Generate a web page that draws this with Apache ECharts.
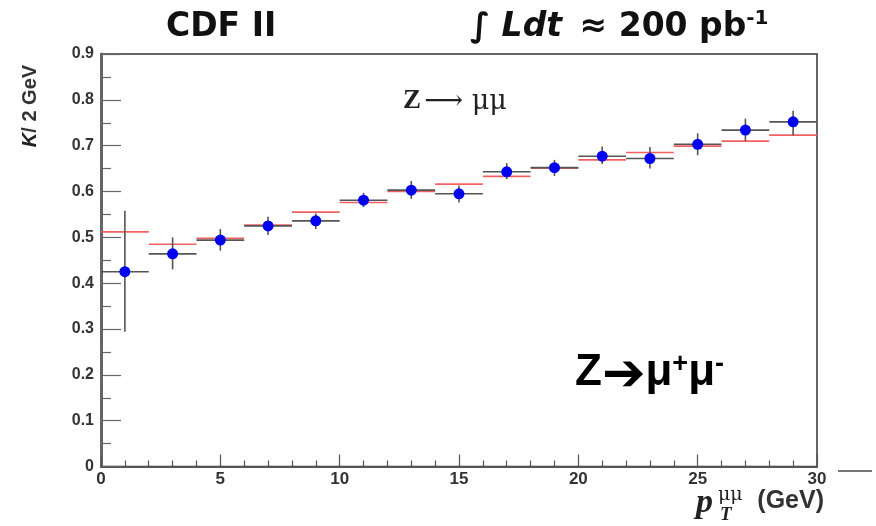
<html>
<head>
<meta charset="utf-8">
<title>CDF II Z to mumu</title>
<script src="https://cdn.jsdelivr.net/npm/echarts@6/dist/echarts.min.js"></script>
</head>
<body style="margin:0;padding:0;background:#fff;">
<div id="main" style="width:876px;height:526px;"></div>
<script>
// bin centres (GeV), bin width 2 GeV
var binCenter = [1, 3, 5, 7, 9, 11, 13, 15, 17, 19, 21, 23, 25, 27, 29];
var binHalf = 1;
// data points and their error bars
var dataVal = [0.425, 0.464, 0.494, 0.525, 0.536, 0.581, 0.603, 0.595, 0.643, 0.652, 0.677, 0.672, 0.703, 0.734, 0.752];
var errHigh = [0.558, 0.500, 0.518, 0.545, 0.552, 0.597, 0.623, 0.613, 0.662, 0.669, 0.698, 0.697, 0.727, 0.759, 0.776];
var errLow  = [0.294, 0.430, 0.471, 0.505, 0.518, 0.566, 0.584, 0.576, 0.627, 0.634, 0.660, 0.650, 0.679, 0.710, 0.723];
// red histogram (prediction)
var mcVal = [0.512, 0.485, 0.498, 0.527, 0.555, 0.576, 0.600, 0.616, 0.633, 0.651, 0.669, 0.685, 0.699, 0.710, 0.723];

var xTicks = [0, 5, 10, 15, 20, 25, 30];
var yTicks = [0, 0.1, 0.2, 0.3, 0.4, 0.5, 0.6, 0.7, 0.8, 0.9];

var myChart = echarts.init(document.getElementById('main'));

var errData = binCenter.map(function (c, i) { return [c, dataVal[i], errLow[i], errHigh[i]]; });
var mcData = binCenter.map(function (c, i) { return [c, mcVal[i]]; });
var ptData = binCenter.map(function (c, i) { return [c, dataVal[i]]; });

function hbar(api, color, width) {
    var c = api.value(0), y = api.value(1);
    var p1 = api.coord([c - binHalf, y]);
    var p2 = api.coord([c + binHalf, y]);
    return {type: 'line', shape: {x1: p1[0], y1: p1[1], x2: p2[0], y2: p2[1]},
        style: {stroke: color, lineWidth: width}};
}

var labelFont = {color: '#333', fontFamily: 'Liberation Sans', fontWeight: 'bold', fontSize: 16};

option = {
    animation: false,
    grid: {left: 101, right: 59, top: 54, bottom: 59.5, show: true,
        borderColor: '#333', borderWidth: 1.5, backgroundColor: '#fff'},
    xAxis: {
        type: 'value', min: 0, max: 30, interval: 5,
        axisLine: {lineStyle: {color: '#555', width: 2}},
        axisTick: {inside: true, length: 12, lineStyle: {color: '#555', width: 1.2}},
        minorTick: {show: true, splitNumber: 5, length: 6, lineStyle: {color: '#555', width: 1.2}},
        splitLine: {show: false},
        axisLabel: Object.assign({margin: 4, formatter: function (v) {
            return xTicks.indexOf(v) >= 0 ? String(v) : '';
        }}, labelFont, {fontSize: 17})
    },
    yAxis: {
        type: 'value', min: 0, max: 0.9, interval: 0.1,
        axisLine: {lineStyle: {color: '#666', width: 3}},
        axisTick: {inside: true, length: 20, lineStyle: {color: '#666', width: 1.2}},
        minorTick: {show: true, splitNumber: 2, length: 10, lineStyle: {color: '#666', width: 1.2}},
        splitLine: {show: false},
        axisLabel: Object.assign({margin: 7, formatter: function (v) {
            var r = Math.round(v * 10) / 10;
            return yTicks.indexOf(r) >= 0 ? (r === 0 ? '0' : r.toFixed(1)) : '';
        }}, labelFont)
    },
    series: [
        {
            type: 'custom', name: 'mc', data: mcData, z: 2,
            renderItem: function (params, api) { return hbar(api, '#f06060', 1.6); }
        },
        {
            type: 'custom', name: 'err', data: errData, z: 3,
            renderItem: function (params, api) {
                var c = api.value(0);
                var lo = api.coord([c, api.value(2)]);
                var hi = api.coord([c, api.value(3)]);
                return {type: 'group', children: [
                    hbar(api, '#555', 1.6),
                    {type: 'line', shape: {x1: lo[0], y1: lo[1], x2: hi[0], y2: hi[1]},
                        style: {stroke: '#555', lineWidth: 1.6}}
                ]};
            }
        },
        {
            type: 'scatter', name: 'data', data: ptData, z: 4,
            symbol: 'circle', symbolSize: 11,
            itemStyle: {color: '#0000f0', opacity: 1}
        }
    ],
    graphic: [
        {type: 'text', left: 166, top: 11, style: {text: 'CDF II', fill: '#111',
            font: 'bold 33px "DejaVu Sans"'}},
        {type: 'text', left: 470, top: 9, style: {
            text: '{i|∫ Ldt}{n| ≈ 200 pb}{s|-1}',
            rich: {
                i: {font: 'italic bold 33px "DejaVu Sans"', fill: '#111'},
                n: {font: 'bold 33px "DejaVu Sans"', fill: '#111', padding: [0, 0, 0, 6]},
                s: {font: 'bold 20px "DejaVu Sans"', fill: '#111', verticalAlign: 'top', padding: [0, 0, 16, 0]}
            }}},
        {type: 'text', x: 30, y: 106, rotation: Math.PI / 2, style: {
            text: '{i|K}{n|/ 2 GeV}', align: 'center', verticalAlign: 'middle',
            rich: {
                i: {font: 'italic bold 20px "Liberation Sans"', fill: '#222'},
                n: {font: 'bold 20px "Liberation Sans"', fill: '#333'}
            }}},
        {type: 'text', left: 403, top: 88, style: {
            text: '{z|Z} {n|⟶ μμ}',
            rich: {
                z: {font: 'bold 27px "Liberation Serif"', fill: '#222'},
                n: {font: '27px "DejaVu Serif"', fill: '#222'}
            }}},
        {type: 'text', left: 575, top: 350, style: {
            text: '{n|Z}{a|➔}{n|μ}{s|+}{n|μ}{s|-}',
            rich: {
                n: {font: 'bold 44px "Liberation Sans"', fill: '#000'},
                a: {font: 'bold 52px "DejaVu Sans"', fill: '#000', padding: [6, 0, 0, 0]},
                s: {font: 'bold 27px "Liberation Sans"', fill: '#000', verticalAlign: 'top', padding: [7, 0, 0, 0]}
            }}},
        {type: 'text', left: 696, top: 486, style: {
            text: '{p|p}{s|μμ}',
            rich: {
                p: {font: 'italic bold 34px "Liberation Serif"', fill: '#222'},
                s: {font: '19px "DejaVu Serif"', fill: '#222', padding: [0, 0, 16, 5]}
            }}},
        {type: 'text', left: 720, top: 506, style: {text: 'T', fill: '#222',
            font: 'italic bold 19px "Liberation Serif"'}},
        {type: 'text', right: 52, top: 489, style: {text: '(GeV)', fill: '#333',
            font: 'bold 25px "Liberation Sans"'}},
        {type: 'line', shape: {x1: 838, y1: 471, x2: 872, y2: 471},
            style: {stroke: '#777', lineWidth: 2}}
    ]
};

myChart.setOption(option);
</script>
</body>
</html>
